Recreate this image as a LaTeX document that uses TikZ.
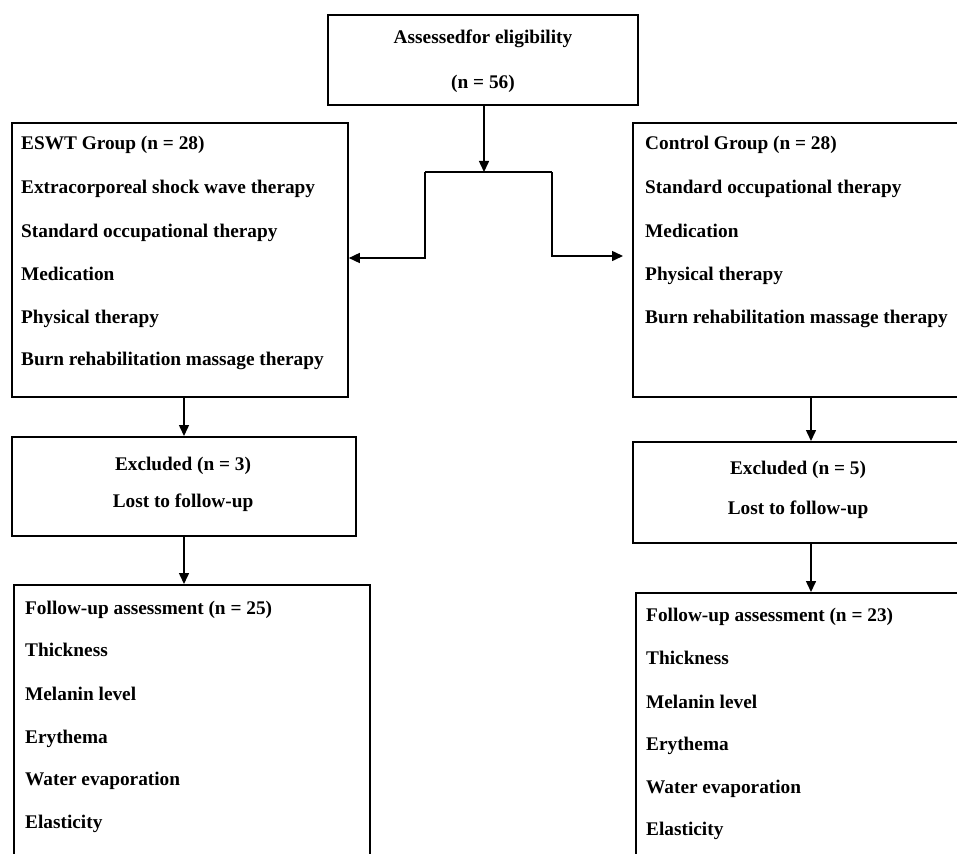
\documentclass[tikz,border=0pt]{standalone}
\usepackage{fontspec}
\setmainfont{Liberation Serif}
\usetikzlibrary{arrows.meta}
\tikzset{
  box/.style={draw=black, line width=1.8pt, fill=none, inner sep=0pt, anchor=north west},
  txt/.style={inner sep=0pt, font=\fontsize{19.3}{22}\selectfont\bfseries, text height=13pt, text depth=4pt},
  ltxt/.style={txt, anchor=west},
  ctxt/.style={txt, anchor=center},
  arr/.style={draw=black, line width=1.5pt, -{Triangle[length=11pt,width=10pt]}},
  ln/.style={draw=black, line width=1.5pt},
}
\begin{document}
\begin{tikzpicture}[x=1pt,y=-1pt]
\useasboundingbox (0,0) rectangle (957,853);
\clip (0,0) rectangle (957,853);
\fill[white] (0,0) rectangle (957,853);
% boxes
\node[box, minimum width=310, minimum height=90] (top) at (327,14) {};
\node[box, minimum width=336, minimum height=274] (eswt) at (11,122) {};
\node[box, minimum width=340, minimum height=274] (ctrl) at (632,122) {};
\node[box, minimum width=344, minimum height=99] (exl) at (11,436) {};
\node[box, minimum width=340, minimum height=101] (exr) at (632,441) {};
\node[box, minimum width=356, minimum height=300] (ful) at (13,584) {};
\node[box, minimum width=340, minimum height=300] (fur) at (635,592) {};
% top text
\node[ctxt] (t1) at (483,39) {Assessedfor eligibility};
\node[ctxt] (t2) at (483,84) {(n = 56)};
% ESWT
\node[ltxt] (e1) at (21,145) {ESWT Group (n = 28)};
\node[ltxt] (e2) at (21,189) {Extracorporeal shock wave therapy};
\node[ltxt] (e3) at (21,233) {Standard occupational therapy};
\node[ltxt] (e4) at (21,276) {Medication};
\node[ltxt] (e5) at (21,319) {Physical therapy};
\node[ltxt] (e6) at (21,361) {Burn rehabilitation massage therapy};
% Control
\node[ltxt] (c1) at (645,145) {Control Group (n = 28)};
\node[ltxt] (c2) at (645,189) {Standard occupational therapy};
\node[ltxt] (c3) at (645,233) {Medication};
\node[ltxt] (c4) at (645,276) {Physical therapy};
\node[ltxt] (c5) at (645,319) {Burn rehabilitation massage therapy};
% Excluded
\node[ctxt] (x1) at (183,466) {Excluded (n = 3)};
\node[ctxt] (x2) at (183,503) {Lost to follow-up};
\node[ctxt] (y1) at (798,470) {Excluded (n = 5)};
\node[ctxt] (y2) at (798,510) {Lost to follow-up};
% Follow-up left
\node[ltxt] (f1) at (25,610) {Follow-up assessment (n = 25)};
\node[ltxt] (f2) at (25,652) {Thickness};
\node[ltxt] (f3) at (25,696) {Melanin level};
\node[ltxt] (f4) at (25,739) {Erythema};
\node[ltxt] (f5) at (25,781) {Water evaporation};
\node[ltxt] (f6) at (25,824) {Elasticity};
% Follow-up right
\node[ltxt] (g1) at (646,617) {Follow-up assessment (n = 23)};
\node[ltxt] (g2) at (646,660) {Thickness};
\node[ltxt] (g3) at (646,704) {Melanin level};
\node[ltxt] (g4) at (646,746) {Erythema};
\node[ltxt] (g5) at (646,789) {Water evaporation};
\node[ltxt] (g6) at (646,831) {Elasticity};
% connectors
\coordinate (split) at (484,172);
\coordinate (sl) at (425,172);
\coordinate (sr) at (552,172);
\coordinate (sl2) at (425,258);
\coordinate (sr2) at (552,256);
\draw[arr] (484,105) -- (split);
\draw[ln] (sl) -- (sr);
\draw[arr] (sl) -- (sl2) -- (eswt.east |- sl2);
\draw[arr] (sr) -- (sr2) -- ([xshift=-9pt]ctrl.west |- sr2);
\draw[arr] (eswt.south -| 184,0) -- (exl.north -| 184,0);
\draw[arr] (exl.south -| 184,0) -- (ful.north -| 184,0);
\draw[arr] (ctrl.south -| 811,0) -- (exr.north -| 811,0);
\draw[arr] (exr.south -| 811,0) -- (fur.north -| 811,0);
\end{tikzpicture}
\end{document}
